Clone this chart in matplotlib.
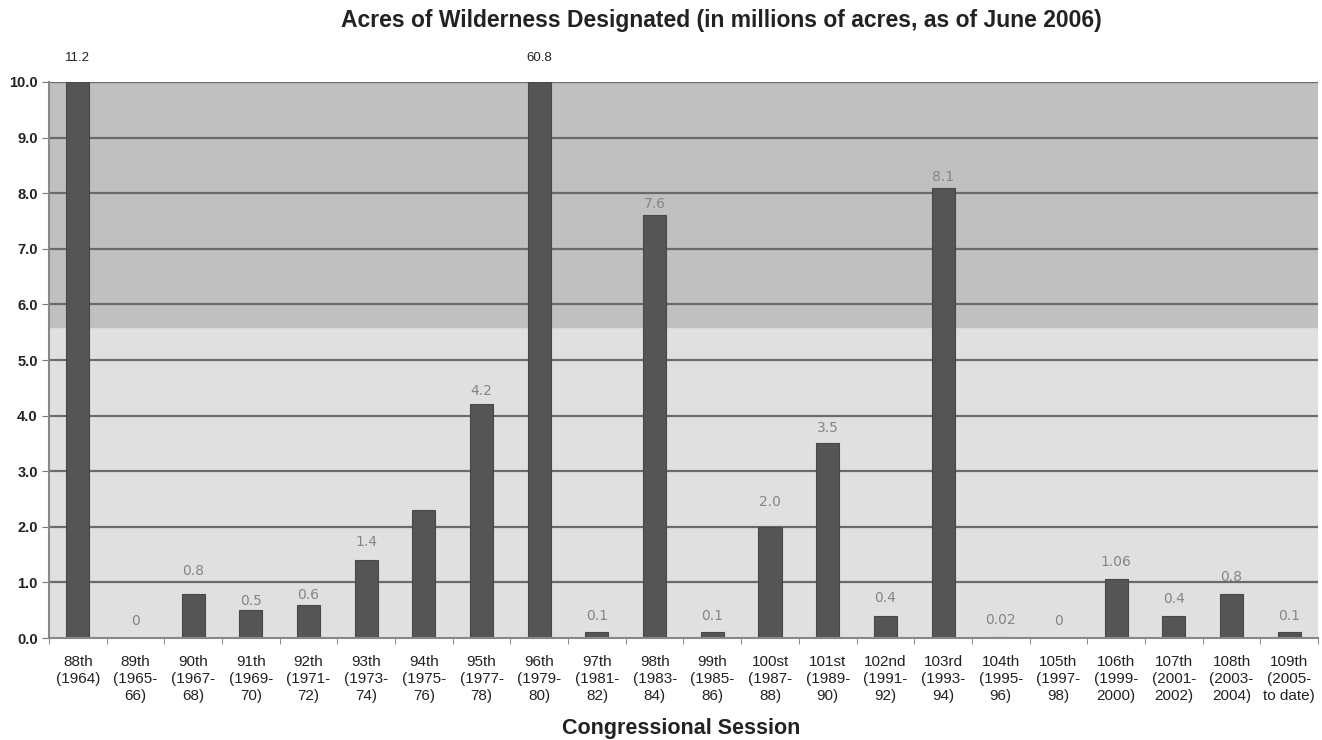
import numpy as np
import matplotlib.pyplot as plt

plt.rcParams['font.family'] = ['Liberation Sans', 'DejaVu Sans']

sessions = ['88th\n(1964)', '89th\n(1965-\n66)', '90th\n(1967-\n68)', '91th\n(1969-\n70)',
            '92th\n(1971-\n72)', '93th\n(1973-\n74)', '94th\n(1975-\n76)', '95th\n(1977-\n78)',
            '96th\n(1979-\n80)', '97th\n(1981-\n82)', '98th\n(1983-\n84)', '99th\n(1985-\n86)',
            '100st\n(1987-\n88)', '101st\n(1989-\n90)', '102nd\n(1991-\n92)', '103rd\n(1993-\n94)',
            '104th\n(1995-\n96)', '105th\n(1997-\n98)', '106th\n(1999-\n2000)', '107th\n(2001-\n2002)',
            '108th\n(2003-\n2004)', '109th\n(2005-\nto date)']
acres = [11.2, 0, 0.8, 0.5, 0.6, 1.4, 2.3, 4.2, 60.8, 0.1, 7.6, 0.1,
         2.0, 3.5, 0.4, 8.1, 0.02, 0, 1.06, 0.4, 0.8, 0.1]
labels = ['11.2', '0', '0.8', '0.5', '0.6', '1.4', '', '4.2', '60.8', '0.1', '7.6', '0.1',
          '2.0', '3.5', '0.4', '8.1', '0.02', '0', '1.06', '0.4', '0.8', '0.1']
# how far (points) each value label sits above its bar
lift = [14, 12, 16, 7, 7, 13, 0, 10, 14, 11.5, 8, 11.5,
        18, 11, 13, 8, 12, 12, 12, 12, 12, 11.5]

ymax = 10.0
x = np.arange(len(sessions))

fig = plt.figure(figsize=(13.22, 7.40), dpi=100)
ax = fig.add_axes([0.037, 0.1378, 0.96, 0.7514])

# two-tone plot background
ax.axhspan(0, 5.6, color='#e0e0e0', zorder=0)
ax.axhspan(5.6, ymax, color='#c0c0c0', zorder=0)
for g in range(1, 11):
    ax.axhline(g, color='#6a6a6a', lw=1.6, zorder=1)

heights = np.minimum(acres, ymax)
ax.bar(x, heights, width=0.4, color='#555555', edgecolor='#484848', lw=0.8, zorder=2)

for i, (v, lab) in enumerate(zip(acres, labels)):
    if not lab:
        continue
    if v > ymax:
        # off-scale bars get their value printed above the plot
        ax.annotate(lab, (i, ymax), xytext=(0, 17), textcoords='offset points',
                    ha='center', va='center', fontsize=9.5, color='#222222',
                    annotation_clip=False)
    else:
        ax.annotate(lab, (i, v), xytext=(0, lift[i]), textcoords='offset points',
                    ha='center', va='center', fontsize=10, color='#858585',
                    family='DejaVu Sans')

ax.set_xlim(-0.5, len(sessions) - 0.5)
ax.set_ylim(0, ymax)
yt = np.arange(0, 11, 1.0)
ax.set_yticks(yt)
ax.set_yticklabels([f'{t:.1f}' for t in yt], fontsize=10.5, fontweight='bold', color='#222222')
ax.set_xticks(x)
ax.set_xticklabels(sessions, fontsize=11, color='#222222', linespacing=1.3)
ax.set_xticks(np.arange(-0.5, len(sessions), 1), minor=True)
ax.tick_params(axis='x', which='major', length=0, pad=12)
ax.tick_params(axis='x', which='minor', length=4, color='#777777')
ax.tick_params(axis='y', length=5, color='#777777', pad=3)

for side in ['top', 'right']:
    ax.spines[side].set_visible(False)
for side in ['left', 'bottom']:
    ax.spines[side].set_color('#888888')
    ax.spines[side].set_linewidth(1.5)

fig.text(0.546, 0.972, 'Acres of Wilderness Designated (in millions of acres, as of June 2006)',
         ha='center', va='center', fontsize=16.5, fontweight='bold', color='#222222')
fig.text(0.515, 0.015, 'Congressional Session', ha='center', va='center',
         fontsize=15.5, fontweight='bold', color='#222222')

fig.savefig('out.png', dpi=100)
